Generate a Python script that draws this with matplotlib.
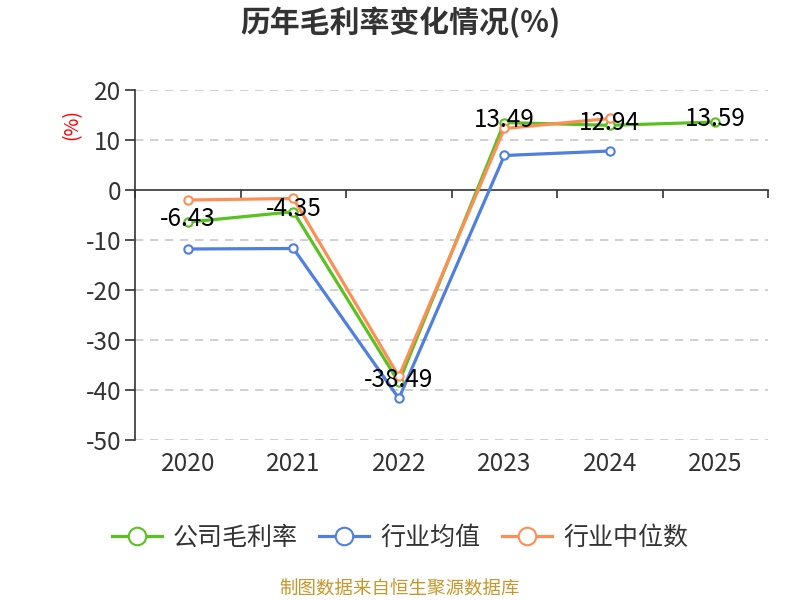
import matplotlib
matplotlib.use('Agg')
import matplotlib.pyplot as plt
import numpy as np

plt.rcParams['font.family'] = ['Noto Sans CJK SC', 'DejaVu Sans']
plt.rcParams['axes.unicode_minus'] = False

# data
years = ['2020', '2021', '2022', '2023', '2024', '2025']
company = [-6.43, -4.35, -38.49, 13.49, 12.94, 13.59]
industry_avg = [-11.8, -11.7, -41.7, 6.9, 7.8]
industry_median = [-2.0, -1.7, -37.3, 12.3, 14.3]

names = ['公司毛利率', '行业均值', '行业中位数']
colors = ['#58c21e', '#4f7fe0', '#ff8e56']

fig = plt.figure(figsize=(8, 6), dpi=100)
ax = fig.add_axes([0.169, 0.2667, 0.791, 0.5833])

x_all = np.arange(len(years))
series = [company, industry_avg, industry_median]
# blue under, then green, orange on top like the reference
order = [1, 0, 2]
handles = {}
for i in order:
    vals = series[i]
    h, = ax.plot(x_all[:len(vals)], vals, color=colors[i], lw=2.3,
                 marker='o', markersize=6, markerfacecolor='white',
                 markeredgewidth=1.5, markeredgecolor=colors[i], zorder=3 + i)
    handles[i] = h

for xi, v in zip(x_all, company):
    ax.annotate(f'{v:.2f}', (xi, v), xytext=(0, 2), textcoords='offset points',
                ha='center', va='center', fontsize=17.5, color='black', zorder=10)

ax.set_xlim(-0.5, 5.5)
ax.set_ylim(-50, 20)
ax.set_yticks(range(-50, 21, 10))
ax.tick_params(axis='y', length=7, width=1.2, color='#333333',
               labelsize=17.5, labelcolor='#333333', pad=3)

for s in ['top', 'right']:
    ax.spines[s].set_visible(False)
ax.spines['left'].set_color('#333333')
ax.spines['left'].set_linewidth(1.2)
ax.spines['bottom'].set_position(('data', 0))
ax.spines['bottom'].set_color('#333333')
ax.spines['bottom'].set_linewidth(1.2)
ax.set_xticks(np.arange(-0.5, 6, 1))
ax.tick_params(axis='x', length=6, width=1.2, color='#333333', labelbottom=False)

sec = ax.secondary_xaxis('bottom')
sec.set_xticks(x_all)
sec.set_xticklabels(years)
sec.tick_params(length=0, labelsize=17.5, labelcolor='#333333', pad=8)
sec.spines['bottom'].set_visible(False)

for v in [20, 10, -10, -20, -30, -40, -50]:
    ax.axhline(v, color='#c8c8c8', lw=1.2, ls=(0, (5, 4)), zorder=1)

fig.text(72 / 800, 1 - 125 / 600, '(%)', color='red', rotation=90,
         ha='center', va='center', fontsize=14)

fig.text(0.5, 1 - 22 / 600, '历年毛利率变化情况(%)', ha='center', va='center',
         fontsize=21.5, fontweight='bold', color='#333333')

fig.legend([handles[0], handles[1], handles[2]], names, loc='center',
           bbox_to_anchor=(0.5, 1 - 538 / 600), ncol=3, frameon=False,
           fontsize=18, handlelength=2.0, columnspacing=0.85, handletextpad=0.45,
           markerscale=2.1, labelcolor='#333333')

fig.text(0.5, 1 - 590 / 600, '制图数据来自恒生聚源数据库', ha='center', va='center',
         fontsize=13.3, color='#c8962a')

fig.savefig('out.png', dpi=100)
